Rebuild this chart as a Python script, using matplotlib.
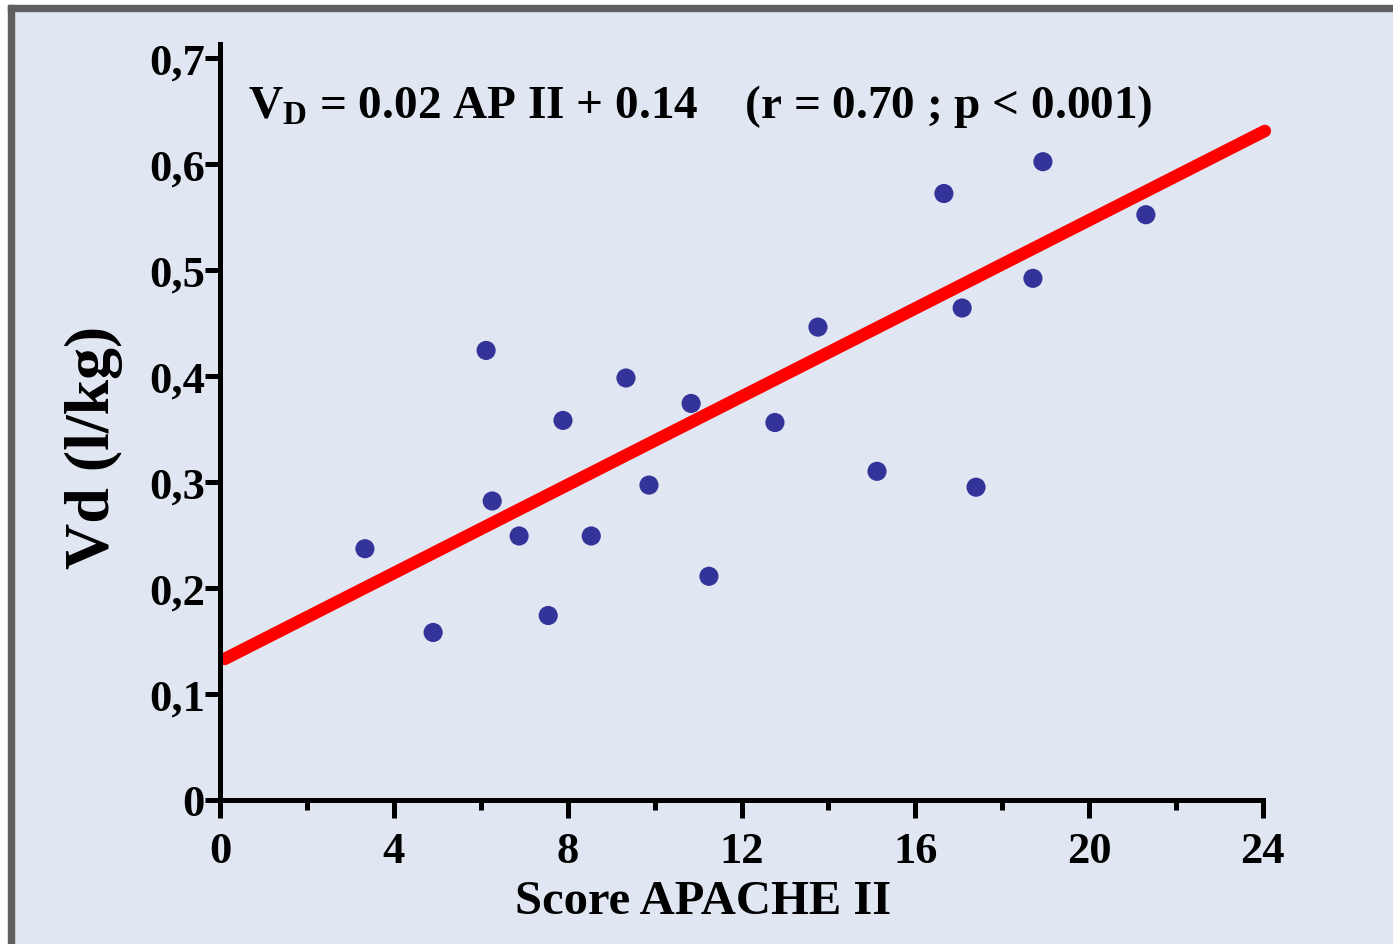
import matplotlib.pyplot as plt
from matplotlib.patches import Rectangle

# data
apache = [3.33, 4.90, 6.12, 6.26, 6.88, 7.55, 7.89, 8.54, 9.34, 9.87, 10.84,
          11.25, 12.77, 13.76, 15.12, 16.66, 17.08, 17.40, 18.71, 18.94, 21.31]
vd = [0.237, 0.158, 0.424, 0.282, 0.249, 0.174, 0.358, 0.249, 0.398, 0.297, 0.374,
      0.211, 0.356, 0.446, 0.310, 0.572, 0.464, 0.295, 0.492, 0.602, 0.552]
fit_x = [0.1, 24.05]
fit_y = [0.133, 0.631]
y_ticks = [0, 0.1, 0.2, 0.3, 0.4, 0.5, 0.6, 0.7]
y_labels = ['0', '0,1', '0,2', '0,3', '0,4', '0,5', '0,6', '0,7']
x_ticks = [0, 4, 8, 12, 16, 20, 24]

bg = '#E0E7F2'
plt.rcParams['font.family'] = 'Liberation Serif'
plt.rcParams['font.weight'] = 'bold'
plt.rcParams['mathtext.fontset'] = 'custom'
plt.rcParams['mathtext.rm'] = 'Liberation Serif:bold'
plt.rcParams['mathtext.bf'] = 'Liberation Serif:bold'

W, H = 1393, 945
fig = plt.figure(figsize=(W / 100, H / 100), dpi=100, facecolor=bg)

# frame: white strip then grey border on top and left
fig.patches.append(Rectangle((0, 0), 8 / W, 1, transform=fig.transFigure, color='white', zorder=0))
fig.patches.append(Rectangle((0, 1 - 6 / H), 1, 6 / H, transform=fig.transFigure, color='white', zorder=0))
fig.patches.append(Rectangle((8 / W, 0), 6 / W, 1 - 6 / H, transform=fig.transFigure, color='#5F5F5F', zorder=0))
fig.patches.append(Rectangle((8 / W, 1 - 12 / H), 1 - 8 / W, 6 / H, transform=fig.transFigure, color='#5F5F5F', zorder=0))

ax = fig.add_axes([220.3 / W, 1 - 801 / H, (1262.7 - 220.3) / W, (801 - 45) / H])
ax.set_facecolor(bg)
ax.set_xlim(0, 24)
ax.set_ylim(0, 0.713)

ax.plot(fit_x, fit_y, color='#FF0000', lw=9, solid_capstyle='round', zorder=2, clip_on=False)
ax.scatter(apache, vd, s=190, color='#333399', edgecolors='none', zorder=3)

for s in ['top', 'right']:
    ax.spines[s].set_visible(False)
for s in ['left', 'bottom']:
    ax.spines[s].set_linewidth(3.6)
ax.spines['left'].set_bounds(0, 0.713)

ax.set_xticks(x_ticks)
ax.set_xticks([2, 6, 10, 14, 18, 22], minor=True)
ax.set_yticks(y_ticks)
ax.set_yticklabels(y_labels)
ax.tick_params(axis='x', which='major', length=13, width=3.6, labelsize=32, pad=9)
ax.tick_params(axis='x', which='minor', length=7, width=3.6)
ax.tick_params(axis='y', which='major', length=11, width=3.6, labelsize=32, pad=0)

ax.set_xlabel('Score APACHE II', fontsize=35, fontweight='bold')
ax.xaxis.set_label_coords(0.463, -0.105)
ax.set_ylabel('Vd (l/kg)', fontsize=46, fontweight='bold')
ax.yaxis.set_label_coords(-0.093, 0.468)

ax.text(0.64, 0.655, r'$\mathbf{V_D}$ = 0.02 AP II + 0.14    (r = 0.70 ; p < 0.001)',
        fontsize=34, fontweight='bold', va='center', ha='left')

plt.savefig('out.png', dpi=100, facecolor=bg)
